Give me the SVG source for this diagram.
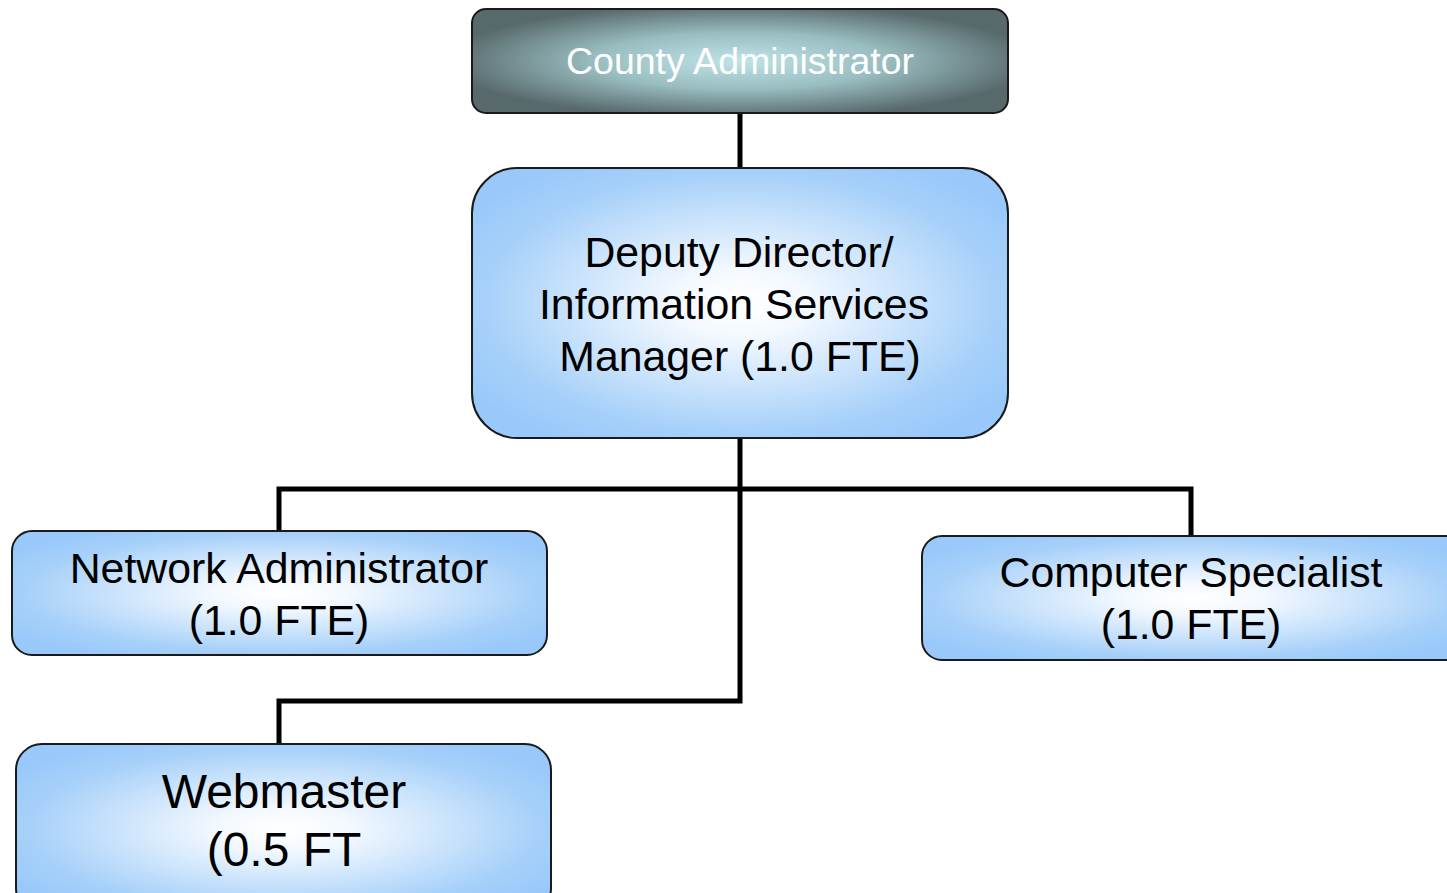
<svg xmlns="http://www.w3.org/2000/svg" width="1447" height="893" viewBox="0 0 1447 893">
<defs>
<radialGradient id="gBlue" cx="0.5" cy="0.5" r="0.6">
<stop offset="0" stop-color="#ffffff"/>
<stop offset="0.2" stop-color="#f4f9ff"/>
<stop offset="0.8" stop-color="#a6d0f9"/>
<stop offset="1" stop-color="#99c9fb"/>
</radialGradient>
<radialGradient id="gGray" cx="0.5" cy="0.5" r="0.55">
<stop offset="0" stop-color="#bfe3e6"/>
<stop offset="0.5" stop-color="#98bcbf"/>
<stop offset="1" stop-color="#58696b"/>
</radialGradient>
</defs>
<style>
.box{stroke:#1a1a1a;stroke-width:2;fill:url(#gBlue)}
.t{font-family:"Liberation Sans",Arial,sans-serif;text-anchor:middle;fill:#000}
.conn{fill:none;stroke:#000;stroke-width:5}
</style>
<g id="connectors">
<line class="conn" x1="740" y1="113" x2="740" y2="168"/>
<polyline class="conn" points="740,438 740,701 279,701 279,744"/>
<polyline class="conn" points="279,531 279,489 1191,489 1191,536"/>
</g>
<g id="county-administrator">
<rect x="472" y="9" width="536" height="104" rx="14" fill="url(#gGray)" stroke="#1a1a1a" stroke-width="2"/>
<text class="t" x="740" y="74" font-size="37.5" style="fill:#ffffff">County Administrator</text>
</g>
<g id="deputy-director">
<rect class="box" x="472" y="168" width="536" height="270" rx="45"/>
<text class="t" x="739" y="267" font-size="42.8">Deputy Director/</text>
<text class="t" x="734" y="319" font-size="42.8">Information Services</text>
<text class="t" x="740" y="371" font-size="42.8">Manager (1.0 FTE)</text>
</g>
<g id="network-administrator">
<rect class="box" x="12" y="531" width="535" height="124" rx="20"/>
<text class="t" x="279" y="583" font-size="42.8">Network Administrator</text>
<text class="t" x="279" y="635" font-size="42.8">(1.0 FTE)</text>
</g>
<g id="computer-specialist">
<rect class="box" x="922" y="536" width="545" height="124" rx="20"/>
<text class="t" x="1191" y="587" font-size="42.8">Computer Specialist</text>
<text class="t" x="1191" y="639" font-size="42.8">(1.0 FTE)</text>
</g>
<g id="webmaster">
<rect class="box" x="16" y="744" width="535" height="170" rx="26"/>
<text class="t" x="284" y="808" font-size="48">Webmaster</text>
<text class="t" x="284" y="866" font-size="48">(0.5 FT</text>
</g>
</svg>
